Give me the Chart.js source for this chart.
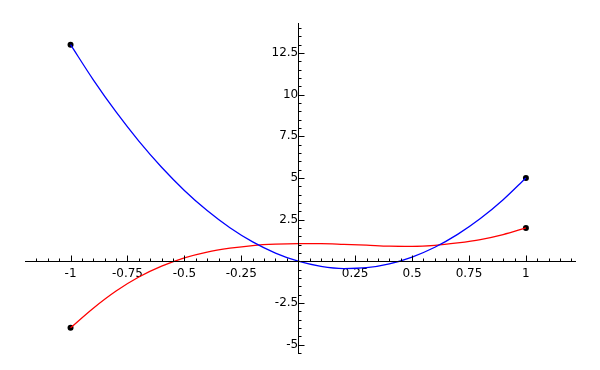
<!DOCTYPE html>
<html>
<head>
<meta charset="utf-8">
<script src="https://cdn.jsdelivr.net/npm/chart.js@4/dist/chart.umd.min.js"></script>
<style>
  html, body { margin: 0; padding: 0; background: #fff; }
</style>
</head>
<body>
<canvas id="myChart" width="600" height="370"></canvas>
<script>
// sample positions along x
const xValues = [-1, -0.9, -0.8, -0.7, -0.6, -0.5, -0.4, -0.3, -0.2, -0.1, 0,
                 0.1, 0.2, 0.3, 0.4, 0.5, 0.6, 0.7, 0.8, 0.9, 1];
// blue curve
const blueValues = [13, 10.89, 8.96, 7.21, 5.64, 4.25, 3.04, 2.01, 1.16, 0.49, 0,
                    -0.31, -0.44, -0.39, -0.16, 0.25, 0.84, 1.61, 2.56, 3.69, 5];
// red curve
const redValues = [-4, -2.82, -1.79, -0.95, -0.3, 0.2, 0.55, 0.78, 0.94, 1.02, 1.05,
                   1.05, 1.01, 0.96, 0.9, 0.89, 0.95, 1.1, 1.3, 1.6, 2];
// end points (black dots)
const dotX = [-1, 1, -1, 1];
const dotY = [13, 5, -4, 2];
// tick labels
const xTicks = [-1, -0.75, -0.5, -0.25, 0, 0.25, 0.5, 0.75, 1];
const yTicks = [-5, -2.5, 0, 2.5, 5, 7.5, 10, 12.5];

const X_MIN = -1.2, X_MAX = 1.22, Y_MIN = -5.57, Y_MAX = 14.3;

const toPoints = (xs, ys) => xs.map((x, i) => ({ x: x, y: ys[i] }));

// axes through the origin + sage style tick marks pointing into the plot
const axesThroughZero = {
  id: "axesThroughZero",
  afterDraw(chart) {
    const ctx = chart.ctx;
    const sx = chart.scales.x, sy = chart.scales.y;
    const x0 = Math.round(sx.getPixelForValue(0)) + 0.5;
    const y0 = Math.round(sy.getPixelForValue(0)) + 0.5;
    ctx.save();
    ctx.strokeStyle = "#000";
    ctx.lineWidth = 1;
    ctx.beginPath();
    // axis lines
    ctx.moveTo(sx.getPixelForValue(X_MIN), y0);
    ctx.lineTo(sx.getPixelForValue(X_MAX), y0);
    ctx.moveTo(x0, sy.getPixelForValue(Y_MAX));
    ctx.lineTo(x0, sy.getPixelForValue(Y_MIN));
    // ticks, minor every 0.05 on x and 0.5 on y
    for (let i = Math.ceil(X_MIN / 0.05); i <= Math.floor(X_MAX / 0.05); i++) {
      if (i === 0) continue;
      const len = i % 5 === 0 ? 6 : 3;
      const px = Math.round(sx.getPixelForValue(i * 0.05)) + 0.5;
      ctx.moveTo(px, y0);
      ctx.lineTo(px, y0 - len);
    }
    for (let j = Math.ceil(Y_MIN / 0.5); j <= Math.floor(Y_MAX / 0.5); j++) {
      if (j === 0) continue;
      const len = j % 5 === 0 ? 6 : 3;
      const py = Math.round(sy.getPixelForValue(j * 0.5)) + 0.5;
      ctx.moveTo(x0, py);
      ctx.lineTo(x0 + len, py);
    }
    ctx.stroke();
    ctx.restore();
  }
};

const fmt = v => {
  const r = Math.round(v * 100) / 100;
  return r === 0 ? "" : String(r);
};

const ctx = document.getElementById("myChart").getContext("2d");

new Chart(ctx, {
  type: "scatter",
  data: {
    datasets: [
      {
        label: "blue",
        data: toPoints(xValues, blueValues),
        showLine: true,
        borderColor: "#0000ff",
        borderWidth: 1.3,
        pointRadius: 0,
        cubicInterpolationMode: "monotone"
      },
      {
        label: "red",
        data: toPoints(xValues, redValues),
        showLine: true,
        borderColor: "#ff0000",
        borderWidth: 1.3,
        pointRadius: 0,
        cubicInterpolationMode: "monotone"
      },
      {
        label: "ends",
        data: toPoints(dotX, dotY),
        showLine: false,
        pointRadius: 3,
        pointBackgroundColor: "#000",
        pointBorderColor: "#000",
        pointBorderWidth: 0
      }
    ]
  },
  options: {
    responsive: false,
    animation: false,
    layout: { padding: { left: 25, right: 24, top: 23, bottom: 16 } },
    plugins: {
      legend: { display: false },
      tooltip: { enabled: false }
    },
    scales: {
      x: {
        type: "linear",
        min: X_MIN,
        max: X_MAX,
        position: { y: 0 },
        afterFit: s => { s.height = 0; },
        afterBuildTicks: s => { s.ticks = xTicks.map(v => ({ value: v })); },
        grid: { display: false, drawTicks: false },
        border: { display: false },
        ticks: {
          callback: fmt,
          color: "#000",
          padding: 5,
          maxRotation: 0,
          autoSkip: false,
          font: { family: "DejaVu Sans", size: 12 }
        }
      },
      y: {
        type: "linear",
        min: Y_MIN,
        max: Y_MAX,
        position: { x: 0 },
        afterFit: s => { s.width = 0; },
        afterBuildTicks: s => { s.ticks = yTicks.map(v => ({ value: v })); },
        grid: { display: false, drawTicks: false },
        border: { display: false },
        ticks: {
          callback: fmt,
          color: "#000",
          padding: 6,
          autoSkip: false,
          font: { family: "DejaVu Sans", size: 12 }
        }
      }
    }
  },
  plugins: [axesThroughZero]
});
</script>
</body>
</html>
